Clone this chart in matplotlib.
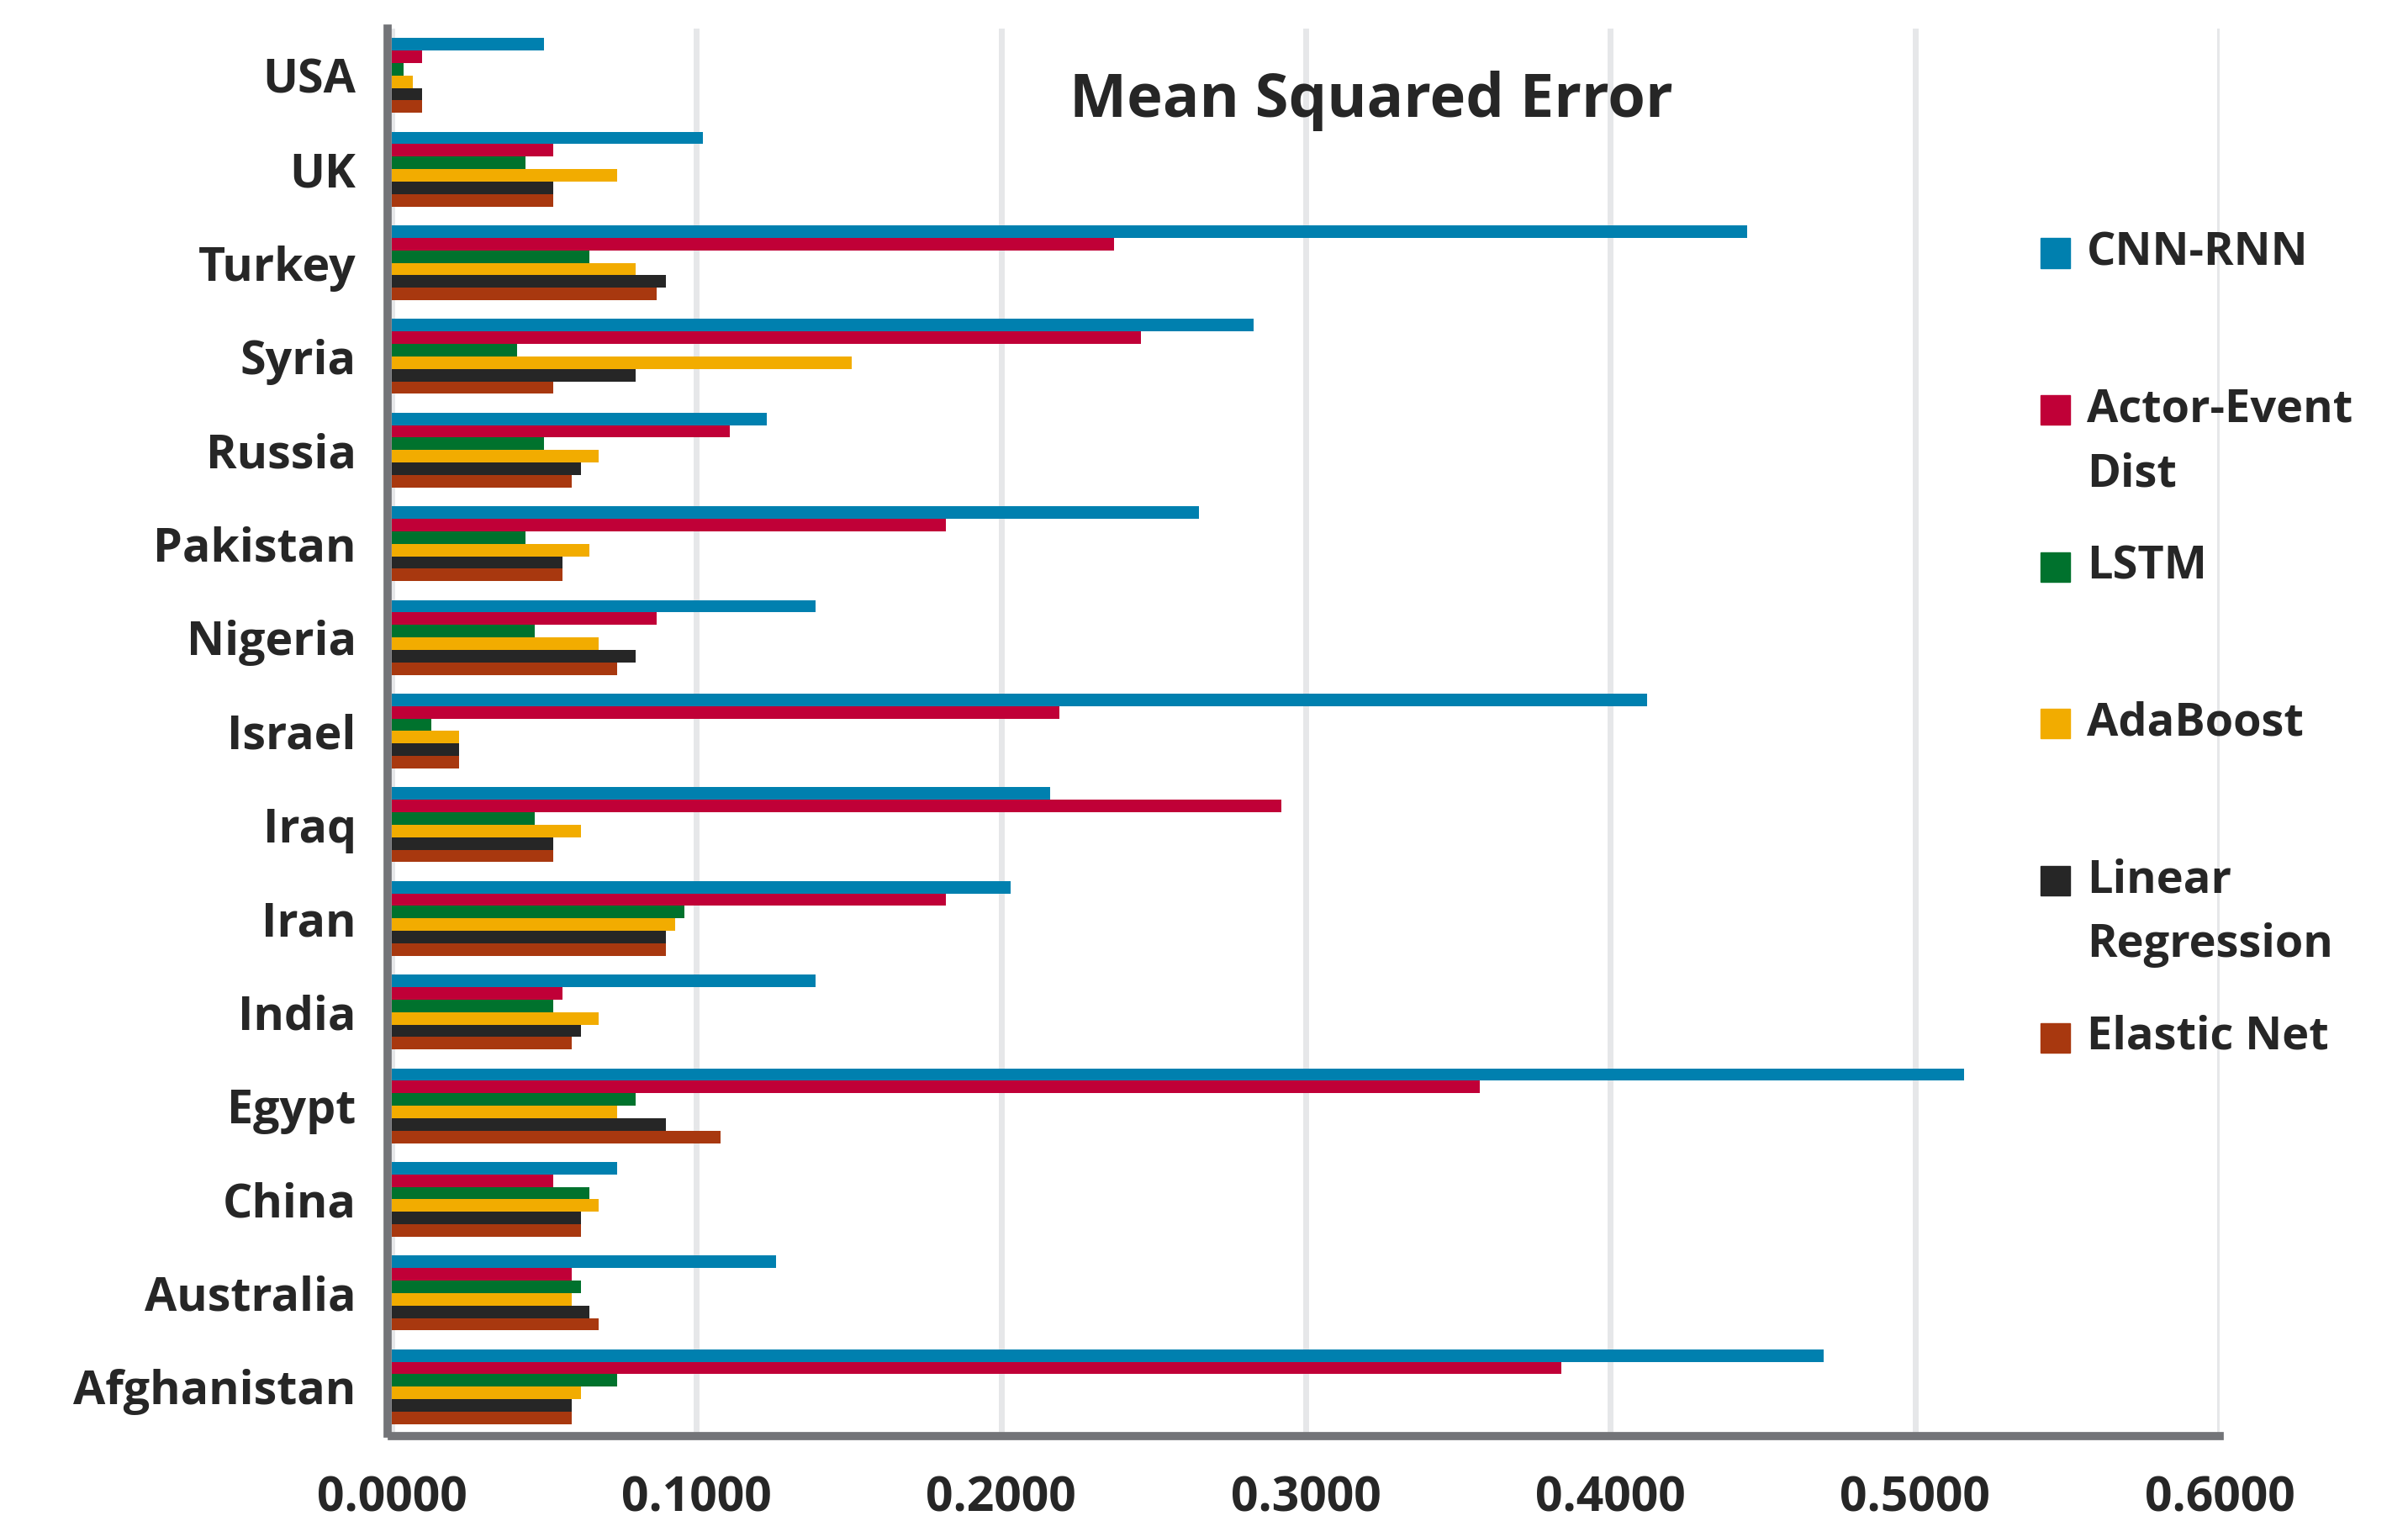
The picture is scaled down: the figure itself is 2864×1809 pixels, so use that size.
import numpy as np
import matplotlib
matplotlib.use("Agg")
import matplotlib.pyplot as plt
from matplotlib.patches import Rectangle

countries = ["USA", "UK", "Turkey", "Syria", "Russia", "Pakistan", "Nigeria",
             "Israel", "Iraq", "Iran", "India", "Egypt", "China", "Australia",
             "Afghanistan"]

series_names = ["CNN-RNN", "Actor-Event\nDist", "LSTM", "AdaBoost",
                "Linear\nRegression", "Elastic Net"]
series_colors = ["#0080AF", "#C00037", "#00722D", "#F2AC00", "#262626", "#A8380F"]

cnn_rnn = [0.050, 0.102, 0.445, 0.283, 0.123, 0.265, 0.139, 0.412, 0.216, 0.203,
           0.139, 0.516, 0.074, 0.126, 0.470]
actor_event = [0.010, 0.053, 0.237, 0.246, 0.111, 0.182, 0.087, 0.219, 0.292, 0.182,
               0.056, 0.357, 0.053, 0.059, 0.384]
lstm = [0.004, 0.044, 0.065, 0.041, 0.050, 0.044, 0.047, 0.013, 0.047, 0.096,
        0.053, 0.080, 0.065, 0.062, 0.074]
adaboost = [0.007, 0.074, 0.080, 0.151, 0.068, 0.065, 0.068, 0.022, 0.062, 0.093,
            0.068, 0.074, 0.068, 0.059, 0.062]
linear_reg = [0.010, 0.053, 0.090, 0.080, 0.062, 0.056, 0.080, 0.022, 0.053, 0.090,
              0.062, 0.090, 0.062, 0.065, 0.059]
elastic_net = [0.010, 0.053, 0.087, 0.053, 0.059, 0.056, 0.074, 0.022, 0.053, 0.090,
               0.059, 0.108, 0.062, 0.068, 0.059]

x_ticks = [0.0, 0.1, 0.2, 0.3, 0.4, 0.5, 0.6]

plt.rcParams["font.family"] = ["Open Sans", "DejaVu Sans"]
text_color = "#262626"

fig = plt.figure(figsize=(28.64, 18.09), dpi=100)
ax = fig.add_axes([0.1627, 0.0575, 0.9218 - 0.1627, 0.9812 - 0.0575])

# spines first: set_position resets the ticks
for side in ["top", "right"]:
    ax.spines[side].set_visible(False)
for side in ["left", "bottom"]:
    ax.spines[side].set_color("#737478")
    ax.spines[side].set_linewidth(7)
ax.spines["left"].set_position(("outward", 3.5))
ax.spines["bottom"].set_position(("outward", 2))

all_series = [cnn_rnn, actor_event, lstm, adaboost, linear_reg, elastic_net]
n = len(countries)
pos = np.arange(n)[::-1]  # USA on top
bar_h = 0.8 / len(all_series)
for k, (vals, color) in enumerate(zip(all_series, series_colors)):
    ax.barh(pos + 0.4 - (k + 0.5) * bar_h, vals, height=bar_h, color=color,
            edgecolor="none", zorder=3)

ax.set_xlim(0, 0.6)
ax.set_ylim(-0.5, n - 0.5)
ax.set_yticks(pos)
ax.set_yticklabels(countries, fontsize=40, fontweight="bold", color=text_color)
ax.set_xticks(x_ticks)
ax.set_xticklabels([f"{v:.4f}" for v in x_ticks], fontsize=41,
                   fontweight="bold", color=text_color)
ax.tick_params(axis="both", length=0)
ax.tick_params(axis="y", pad=27)
ax.tick_params(axis="x", pad=33)

ax.grid(axis="x", color="#E6E7E9", linewidth=5, zorder=0)
ax.set_axisbelow(True)

ax.text(0.536, 0.9485, "Mean Squared Error", transform=ax.transAxes,
        ha="center", va="center", fontsize=52, fontweight="bold",
        color=text_color)

# legend, drawn by hand so the swatch lines up with the first text line
W, H = 2864, 1809
leg_x = 2427
leg_y0 = 301
leg_step = 186.6
sw = 35
for k, (name, color) in enumerate(zip(series_names, series_colors)):
    yc = leg_y0 + k * leg_step
    fig.add_artist(Rectangle((leg_x / W, 1 - (yc + sw / 2) / H), sw / W, sw / H,
                             transform=fig.transFigure, color=color))
    for j, line in enumerate(name.split("\n")):
        fig.text((leg_x + 55) / W, 1 - (yc + j * 77) / H, line, ha="left",
                 va="center", fontsize=39, fontweight="bold", color=text_color)

fig.savefig("out.png", dpi=100)
